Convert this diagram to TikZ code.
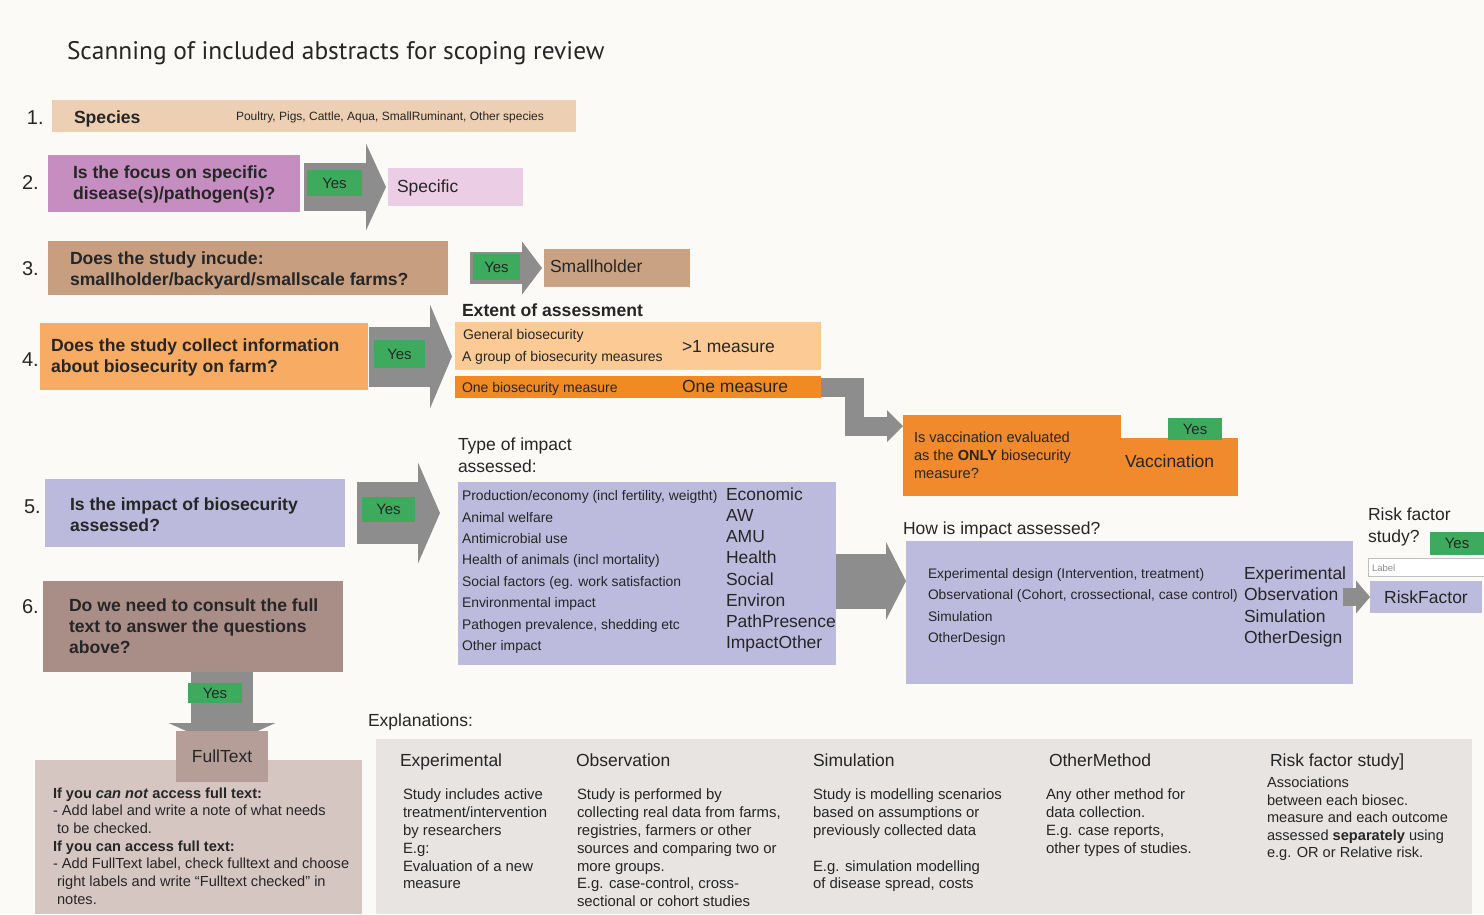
\documentclass[tikz,border=0pt]{standalone}
\usepackage{fontspec}
\setmainfont{Liberation Sans}
\newfontfamily\titlefont{PT Sans}
\usetikzlibrary{arrows.meta,calc}
\pgfdeclarelayer{background}
\pgfsetlayers{background,main}
\definecolor{bg}{HTML}{FCFAF7}
\definecolor{cSpecies}{HTML}{EDCFB3}
\definecolor{cQtwo}{HTML}{C68DC1}
\definecolor{cSpec}{HTML}{EBCDE6}
\definecolor{cQthree}{HTML}{C79E80}
\definecolor{cSmall}{HTML}{C9A283}
\definecolor{cQfour}{HTML}{F8AB62}
\definecolor{cExt}{HTML}{FCCB95}
\definecolor{cOne}{HTML}{F28A24}
\definecolor{cVac}{HTML}{F08A2C}
\definecolor{cQfive}{HTML}{BBB9DC}
\definecolor{cImp}{HTML}{BDBBDD}
\definecolor{cQsix}{HTML}{A98E88}
\definecolor{cFT}{HTML}{B69E98}
\definecolor{cFTinfo}{HTML}{D6C6C1}
\definecolor{cExpl}{HTML}{E7E4E2}
\definecolor{cArrow}{HTML}{8D8D8D}
\definecolor{cYes}{HTML}{3EAA5E}
\definecolor{cTxt}{HTML}{262626}
\newcommand\myQ{\bfseries\fontsize{17.6}{21}\selectfont}
\newcommand\mySm{\fontsize{14}{18}\selectfont}
\newcommand\myMd{\fontsize{17.5}{22}\selectfont}
\newcommand\myNum{\fontsize{20}{20}\selectfont}
\newcommand\myEx{\fontsize{14.9}{17.8}\selectfont}
\tikzset{
  box/.style={rectangle, inner sep=0pt, outer sep=0pt, anchor=north west, draw=none},
  txt/.style={inner sep=0pt, outer sep=0pt, text=cTxt, align=left},
  yesbox/.style={box, fill=cYes, text=cTxt, font=\fontsize{15}{15}\selectfont},
  blockarrow/.style n args={3}{draw=cArrow, line width=#1, line join=miter,
     -{Triangle[length=#2, width=#3, line width=0pt]}},
}
\begin{document}
\begin{tikzpicture}[x=1pt,y=-1pt]
\useasboundingbox (0,0) rectangle (1484,914);
% title and numbers
\node[txt, anchor=base west, font=\titlefont\fontsize{25.4}{25.4}\selectfont] (title) at (67,59) {Scanning of included abstracts for scoping review};
\node[txt, anchor=base west, font=\myNum] (n1) at (27,124) {1.};
\node[txt, anchor=base west, font=\myNum] (n2) at (22,189) {2.};
\node[txt, anchor=base west, font=\myNum] (n3) at (22,275) {3.};
\node[txt, anchor=base west, font=\myNum] (n4) at (22,366) {4.};
\node[txt, anchor=base west, font=\myNum] (n5) at (24,513) {5.};
\node[txt, anchor=base west, font=\myNum] (n6) at (22,613) {6.};
% row 1
\node[box, fill=cSpecies, minimum width=524, minimum height=32] (sp) at (52,100) {};
\node[txt, anchor=base west, font=\myQ] (spt) at (74,123) {Species};
\node[txt, anchor=base west, font=\fontsize{12}{12}\selectfont] (spl) at (236,120) {Poultry, Pigs, Cattle, Aqua, SmallRuminant, Other species};
% row 2
\node[box, fill=cQtwo, minimum width=252, minimum height=57] (q2) at (48,155) {};
\node[txt, anchor=west, font=\myQ] (q2t) at (73,184) {Is the focus on specific\\disease(s)/pathogen(s)?};
\node[box, fill=cSpec, minimum width=135, minimum height=38] (spec) at (388,168) {};
\node[txt, anchor=base west, font=\myMd] (spect) at (397,192) {Specific};
% row 3
\node[box, fill=cQthree, minimum width=400, minimum height=54] (q3) at (48,241) {};
\node[txt, anchor=west, font=\myQ] (q3t) at (70,270) {Does the study incude:\\smallholder/backyard/smallscale farms?};
\node[box, fill=cSmall, minimum width=146, minimum height=38] (sh) at (544,249) {};
\node[txt, anchor=base west, font=\myMd] (sht) at (550,272) {Smallholder};
% row 4
\node[box, fill=cQfour, minimum width=328, minimum height=67] (q4) at (40,323) {};
\node[txt, anchor=west, font=\myQ] (q4t) at (51,357) {Does the study collect information\\about biosecurity on farm?};
\node[txt, anchor=base west, font=\myQ] (extl) at (462,316) {Extent of assessment};
\node[box, fill=cExt, minimum width=366, minimum height=48] (ext) at (455,322) {};
\node[txt, anchor=base west, font=\mySm] (ext1) at (463,339) {General biosecurity};
\node[txt, anchor=base west, font=\mySm] (ext2) at (462,361) {A group of biosecurity measures};
\node[txt, anchor=base west, font=\myMd] (ext3) at (682,352) {>1 measure};
\node[box, fill=cOne, minimum width=366, minimum height=22] (one) at (455,376) {};
\node[txt, anchor=base west, font=\mySm] (one1) at (462,392) {One biosecurity measure};
\node[txt, anchor=base west, font=\myMd] (one2) at (682,392) {One measure};
% vaccination
\node[box, fill=cVac, minimum width=218, minimum height=81] (vac) at (903,415) {};
\node[box, fill=cVac, minimum width=118, minimum height=58] (vacR) at (1120,438) {};
\node[txt, anchor=west, font=\fontsize{14.6}{18}\selectfont] (vact) at (914,455) {Is vaccination evaluated\\as the \textbf{ONLY} biosecurity\\measure?};
\node[txt, anchor=base west, font=\myMd] (vacl) at (1125,467) {Vaccination};
% row 5
\node[box, fill=cQfive, minimum width=300, minimum height=68] (q5) at (45,479) {};
\node[txt, anchor=west, font=\myQ] (q5t) at (70,515) {Is the impact of biosecurity\\assessed?};
\node[txt, anchor=west, font=\myMd] (impl) at (458,455) {Type of impact\\assessed:};
\node[box, fill=cImp, minimum width=378, minimum height=183] (imp) at (458,482) {};
\node[txt, anchor=west, font=\fontsize{13.9}{21.43}\selectfont] (impL) at (462,572) {Production/economy (incl fertility, weigtht)\\Animal welfare\\Antimicrobial use\\Health of animals (incl mortality)\\Social factors (eg. work satisfaction\\Environmental impact\\Pathogen prevalence, shedding etc\\Other impact};
\node[txt, anchor=west, font=\fontsize{17.5}{21.14}\selectfont] (impR) at (726,570) {Economic\\AW\\AMU\\Health\\Social\\Environ\\PathPresence\\ImpactOther};
\node[txt, anchor=base west, font=\myMd] (howl) at (903,534) {How is impact assessed?};
\node[box, fill=cImp, minimum width=447, minimum height=143] (how) at (906,541) {};
\node[txt, anchor=west, font=\fontsize{13.8}{21.3}\selectfont] (howL) at (928,607) {Experimental design (Intervention, treatment)\\Observational (Cohort, crossectional, case control)\\Simulation\\OtherDesign};
\node[txt, anchor=west, font=\fontsize{17.5}{21.1}\selectfont] (howR) at (1244,607) {Experimental\\Observation\\Simulation\\OtherDesign};
\node[txt, anchor=west, font=\myMd] (rfq) at (1368,527) {Risk factor\\study?};
\node[box, fill=white, draw=black!25, line width=0.8pt, minimum width=116, minimum height=18] (lab) at (1368,558) {};
\node[txt, anchor=base west, text=black!45, font=\fontsize{9.5}{9.5}\selectfont] (labt) at (1372,571) {Label};
\node[box, fill=cImp, minimum width=112, minimum height=32, text=cTxt, font=\myMd] (rf) at (1370,581) {RiskFactor};
% row 6
\node[box, fill=cQsix, minimum width=300, minimum height=91] (q6) at (43,581) {};
\node[txt, anchor=west, font=\myQ] (q6t) at (69,626) {Do we need to consult the full\\text to answer the questions\\above?};
\node[box, fill=cFTinfo, minimum width=327, minimum height=154] (fti) at (35,760) {};
\node[txt, anchor=west, font=\fontsize{14.6}{17.7}\selectfont] (ftit) at (53,846) {\textbf{If you \textit{can not} access full text:}\\- Add label and write a note of what needs\\\ to be checked.\\\textbf{If you can access full text:}\\- Add FullText label, check fulltext and choose\\\ right labels and write “Fulltext checked” in\\\ notes.};
\node[box, fill=cFT, minimum width=92, minimum height=51, text=cTxt, font=\myMd] (ft) at (176,731) {FullText};
% explanations
\node[txt, anchor=base west, font=\myMd] (exl) at (368,726) {Explanations:};
\node[box, fill=cExpl, minimum width=1096, minimum height=175] (expl) at (376,739) {};
\node[txt, anchor=base west, font=\myMd] (h1) at (400,766) {Experimental};
\node[txt, anchor=base west, font=\myMd] (h2) at (576,766) {Observation};
\node[txt, anchor=base west, font=\myMd] (h3) at (813,766) {Simulation};
\node[txt, anchor=base west, font=\myMd] (h4) at (1049,766) {OtherMethod};
\node[txt, anchor=base west, font=\myMd] (h5) at (1270,766) {Risk factor study]};
\node[txt, anchor=north west, font=\myEx] (b1) at (403,789) {Study includes active\\treatment/intervention\\by researchers\\E.g:\\Evaluation of a new\\measure};
\node[txt, anchor=north west, font=\myEx] (b2) at (577,789) {Study is performed by\\collecting real data from farms,\\registries, farmers or other\\sources and comparing two or\\more groups.\\E.g. case-control, cross-\\sectional or cohort studies};
\node[txt, anchor=north west, font=\myEx] (b3) at (813,789) {Study is modelling scenarios\\based on assumptions or\\previously collected data\\[17.8pt]E.g. simulation modelling\\of disease spread, costs};
\node[txt, anchor=north west, font=\myEx] (b4) at (1046,789) {Any other method for\\data collection.\\E.g. case reports,\\other types of studies.};
\node[txt, anchor=north west, font=\fontsize{14.6}{17.6}\selectfont] (b5) at (1267,777) {Associations\\between each biosec.\\measure and each outcome\\assessed \textbf{separately} using\\e.g. OR or Relative risk.};
% background layer: page and the arrow that runs under FullText
\begin{pgfonlayer}{background}
\fill[bg] (0,0) rectangle (1484,914);
\draw[blockarrow={62}{24}{107}] ($(ft.north |- q6.south)+(0,-10)$) -- ($(ft.north)+(0,16)$);
\end{pgfonlayer}
% block arrows
\draw[blockarrow={48}{20}{87}] ($(q2.east |- spec.west)+(4,0)$) -- ($(spec.west)+(-2,0)$);
\draw[blockarrow={32}{20}{53}] ($(q3.east |- sh.west)+(22,0)$) -- ($(sh.west)+(-2,0)$);
\draw[blockarrow={60}{22}{104}] ($(q4.east)+(1,0)$) -- ($(ext.west |- q4.east)+(-3,0)$);
\draw[blockarrow={62}{22}{101}] ($(q5.east)+(12,0)$) -- ($(imp.west |- q5.east)+(-18,0)$);
\coordinate (aY) at (0,581);
\draw[blockarrow={55}{20}{78}] (imp.east |- aY) -- (how.west |- aY);
\draw[blockarrow={19}{16}{32}] (one.east) -| ($(vac.north west)+(-49,11)$) -- ($(vac.north west)+(0,11)$);
\draw[blockarrow={18}{14}{33}] ($(how.east |- rf.west)+(-10,0)$) -- (rf.west);
% yes labels
\node[yesbox, minimum width=55, minimum height=26] (y2) at (307,170) {Yes};
\node[yesbox, minimum width=47, minimum height=26] (y3) at (473,254) {Yes};
\node[yesbox, minimum width=51, minimum height=28] (y4) at (374,340) {Yes};
\node[yesbox, minimum width=53, minimum height=25] (y5) at (362,497) {Yes};
\node[yesbox, minimum width=54, minimum height=20] (y6) at (188,683) {Yes};
\node[yesbox, minimum width=54, minimum height=22] (yv) at (1168,418) {Yes};
\node[yesbox, minimum width=54, minimum height=23] (yr) at (1430,532) {Yes};
\end{tikzpicture}
\end{document}
